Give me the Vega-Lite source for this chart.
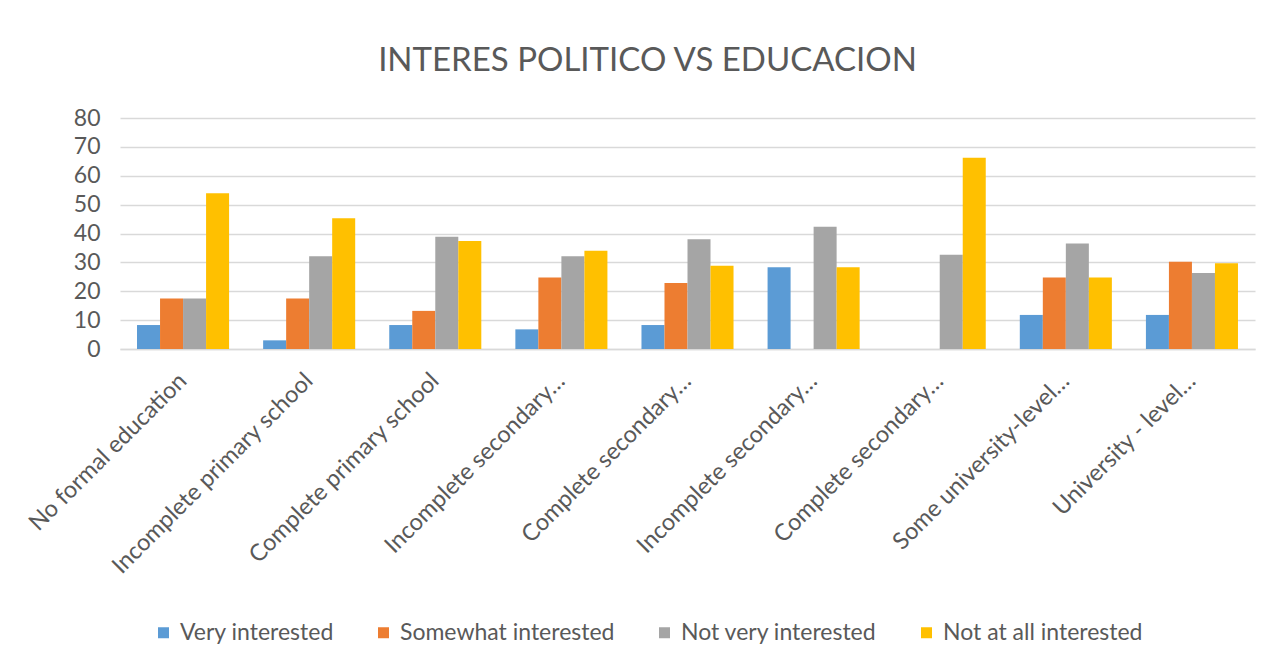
{
  "$schema": "https://vega.github.io/schema/vega-lite/v6.json",
  "autosize": {"type": "none"},
  "width": 1135,
  "height": 231,
  "padding": {"left": 120, "top": 118, "right": 18, "bottom": 321},
  "background": "white",
  "title": {
    "text": "INTERES POLITICO VS EDUCACION",
    "font": "Lato",
    "fontSize": 33,
    "fontWeight": "normal",
    "color": "#595959",
    "anchor": "middle",
    "dx": -40,
    "offset": 29
  },
  "data": {
    "values": [
      {"education": "No formal education", "interest": "Very interested", "pct": 8.3},
      {"education": "No formal education", "interest": "Somewhat interested", "pct": 17.5},
      {"education": "No formal education", "interest": "Not very interested", "pct": 17.5},
      {"education": "No formal education", "interest": "Not at all interested", "pct": 53.9},
      {"education": "Incomplete primary school", "interest": "Very interested", "pct": 3.0},
      {"education": "Incomplete primary school", "interest": "Somewhat interested", "pct": 17.5},
      {"education": "Incomplete primary school", "interest": "Not very interested", "pct": 32.1},
      {"education": "Incomplete primary school", "interest": "Not at all interested", "pct": 45.3},
      {"education": "Complete primary school", "interest": "Very interested", "pct": 8.3},
      {"education": "Complete primary school", "interest": "Somewhat interested", "pct": 13.2},
      {"education": "Complete primary school", "interest": "Not very interested", "pct": 38.9},
      {"education": "Complete primary school", "interest": "Not at all interested", "pct": 37.4},
      {"education": "Incomplete secondary…", "interest": "Very interested", "pct": 6.8},
      {"education": "Incomplete secondary…", "interest": "Somewhat interested", "pct": 24.8},
      {"education": "Incomplete secondary…", "interest": "Not very interested", "pct": 32.1},
      {"education": "Incomplete secondary…", "interest": "Not at all interested", "pct": 34.0},
      {"education": "Complete secondary…", "interest": "Very interested", "pct": 8.3},
      {"education": "Complete secondary…", "interest": "Somewhat interested", "pct": 22.9},
      {"education": "Complete secondary…", "interest": "Not very interested", "pct": 38.0},
      {"education": "Complete secondary…", "interest": "Not at all interested", "pct": 28.8},
      {"education": "Incomplete secondary…\u200b", "interest": "Very interested", "pct": 28.3},
      {"education": "Incomplete secondary…\u200b", "interest": "Somewhat interested", "pct": 0},
      {"education": "Incomplete secondary…\u200b", "interest": "Not very interested", "pct": 42.3},
      {"education": "Incomplete secondary…\u200b", "interest": "Not at all interested", "pct": 28.3},
      {"education": "Complete secondary…\u200b", "interest": "Very interested", "pct": 0},
      {"education": "Complete secondary…\u200b", "interest": "Somewhat interested", "pct": 0},
      {"education": "Complete secondary…\u200b", "interest": "Not very interested", "pct": 32.6},
      {"education": "Complete secondary…\u200b", "interest": "Not at all interested", "pct": 66.2},
      {"education": "Some university-level…", "interest": "Very interested", "pct": 11.8},
      {"education": "Some university-level…", "interest": "Somewhat interested", "pct": 24.8},
      {"education": "Some university-level…", "interest": "Not very interested", "pct": 36.5},
      {"education": "Some university-level…", "interest": "Not at all interested", "pct": 24.8},
      {"education": "University - level…", "interest": "Very interested", "pct": 11.8},
      {"education": "University - level…", "interest": "Somewhat interested", "pct": 30.2},
      {"education": "University - level…", "interest": "Not very interested", "pct": 26.3},
      {"education": "University - level…", "interest": "Not at all interested", "pct": 29.7}
    ]
  },
  "mark": {"type": "bar"},
  "encoding": {
    "x": {
      "field": "education",
      "type": "nominal",
      "sort": null,
      "scale": {"paddingInner": 0.27, "paddingOuter": 0.135},
      "axis": {
        "title": null,
        "labelAngle": -45,
        "labelAlign": "right",
        "labelBaseline": "middle",
        "labelPadding": 28,
        "labelFont": "Lato",
        "labelFontSize": 23.5,
        "labelColor": "#595959",
        "labelLimit": 400,
        "ticks": false,
        "domain": true,
        "domainColor": "#D9D9D9",
        "domainWidth": 1.5
      }
    },
    "xOffset": {
      "field": "interest",
      "type": "nominal",
      "sort": ["Very interested", "Somewhat interested", "Not very interested", "Not at all interested"],
      "scale": {"paddingInner": 0, "paddingOuter": 0}
    },
    "y": {
      "field": "pct",
      "type": "quantitative",
      "scale": {"domain": [0, 80], "nice": false},
      "axis": {
        "title": null,
        "values": [0, 10, 20, 30, 40, 50, 60, 70, 80],
        "labelFont": "Lato",
        "labelFontSize": 23,
        "labelColor": "#595959",
        "labelPadding": 20,
        "ticks": false,
        "domain": false,
        "grid": true,
        "gridColor": "#D9D9D9",
        "gridWidth": 1.5
      }
    },
    "color": {
      "field": "interest",
      "type": "nominal",
      "sort": ["Very interested", "Somewhat interested", "Not very interested", "Not at all interested"],
      "scale": {
        "domain": ["Very interested", "Somewhat interested", "Not very interested", "Not at all interested"],
        "range": ["#5B9BD5", "#ED7D31", "#A5A5A5", "#FFC000"]
      },
      "legend": {
        "title": null,
        "orient": "none",
        "direction": "horizontal",
        "legendX": 32,
        "legendY": 503,
        "columns": 4,
        "columnPadding": 38,
        "symbolType": "square",
        "symbolSize": 121,
        "symbolStrokeWidth": 0,
        "symbolOffset": 0,
        "labelOffset": 5,
        "labelFont": "Lato",
        "labelFontSize": 23,
        "labelColor": "#595959",
        "labelLimit": 400
      }
    }
  },
  "config": {
    "view": {"stroke": null}
  }
}
